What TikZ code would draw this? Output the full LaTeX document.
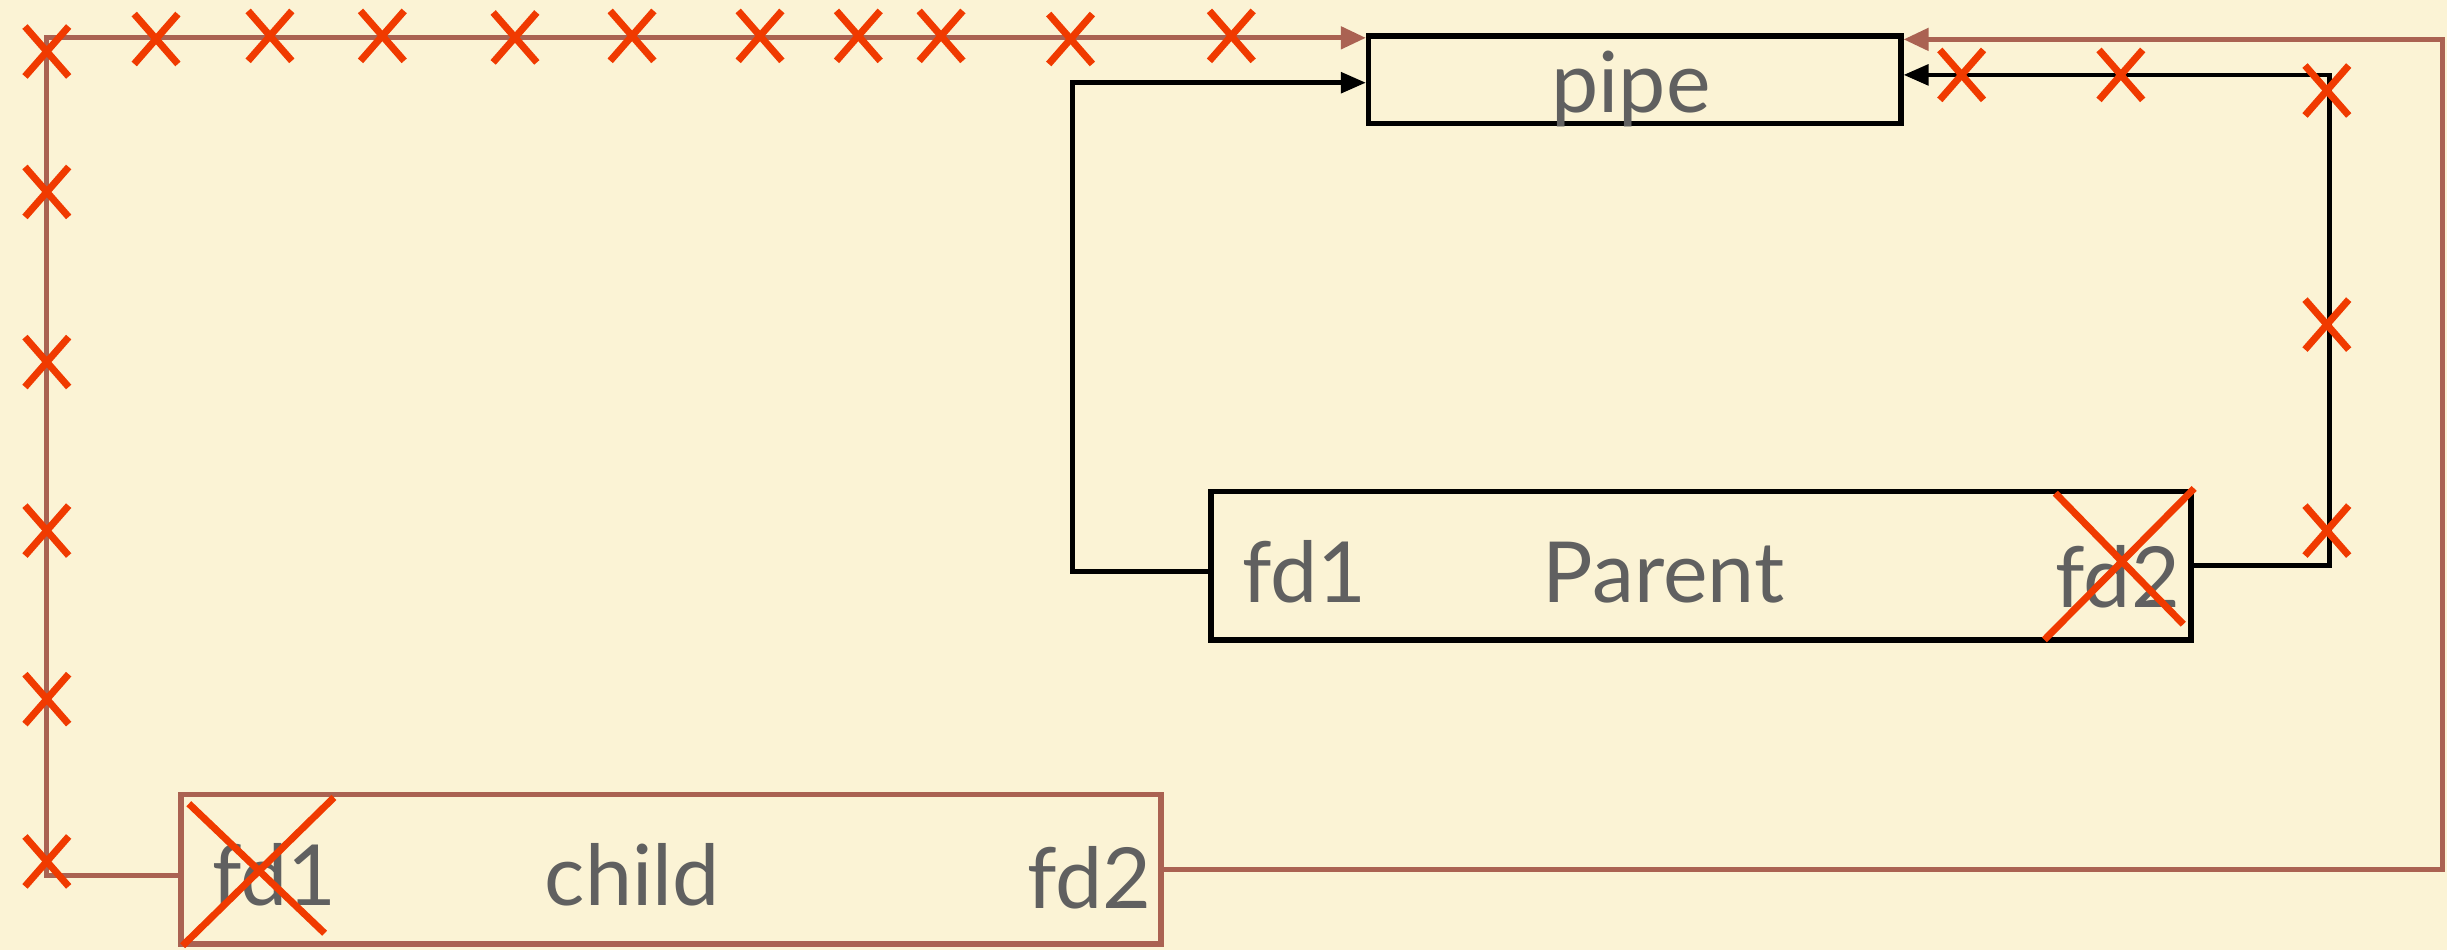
\documentclass[tikz,border=0pt]{standalone}
\usepackage{fontspec}
\setmainfont{Lato}
\usetikzlibrary{arrows.meta}
\definecolor{bg}{RGB}{251,243,213}
\definecolor{brn}{RGB}{170,98,82}
\definecolor{xred}{RGB}{240,58,0}
\definecolor{txt}{RGB}{96,96,96}
\tikzset{
  box/.style={draw=black,line width=3.5pt,minimum width=#1,minimum height=56pt,inner sep=0pt},
  blkline/.style={draw=black,line width=3pt,line cap=rect},
  brnline/.style={draw=brn,line width=3.2pt},
  lbl/.style={text=txt,font=\fontsize{54}{60}\selectfont,inner sep=0pt},
  xst/.style={draw=xred,line width=4.5pt},
  xm/.pic={\draw[xst] (-14,16)--(14,-16); \draw[xst] (-14,-16)--(14,16);},
  bigx/.style={draw=xred,line width=4.5pt}
}
\begin{document}
\begin{tikzpicture}[x=1pt,y=-1pt]
\fill[bg] (0,0) rectangle (1568,609);
\useasboundingbox (0,0) rectangle (1568,609);

% boxes
\node[box=341pt,minimum height=56pt] (pipe) at (1047.5,51) {};
\node[box=628pt,minimum height=95pt] (parent) at (1090,362.5) {};
\node[box=628pt,minimum height=96pt,draw=brn] (child) at (430,557) {};

% labels
\node[lbl,anchor=base] (tpipe) at (1045,72) {pipe};
\node[lbl,anchor=base west] (pfd1) at (796,386) {fd1};
\node[lbl,anchor=base] (pname) at (1066,386) {Parent};
\node[lbl,anchor=base east] (pfd2) at (1397,389) {fd2};
\node[lbl,anchor=base west] (cfd1) at (136,580) {fd1};
\node[lbl,anchor=base] (cname) at (405,580) {child};
\node[lbl,anchor=base east] (cfd2) at (738,582) {fd2};

% black connectors
\draw[blkline,-{Triangle[length=16pt,width=13pt]}] ([yshift=-3.5pt]parent.west) -- ++(-87,0) |- ([yshift=-2pt]pipe.west);
\draw[blkline,-{Triangle[length=16pt,width=13pt]}] (parent.east) -- ++(87,0) |- ([yshift=3pt]pipe.east);

% brown connectors
\coordinate (lc) at (30,561);
\coordinate (rc) at (1565,557);
\draw[brnline,-{Triangle[length=16pt,width=14pt]}] ([yshift=-4pt]child.west) -- (lc) |- ([yshift=-3pt]pipe.north west);
\draw[brnline,-{Triangle[length=16pt,width=14pt]}] (child.east) -- (rc) |- ([yshift=-4pt]pipe.north east);

% crosses
\foreach \p in {(30,33),(100,25),(173,23),(245,23),(330,24),(405,23),(487,23),(550,23),(603,23),(686,25),(789,23),
                (30,123),(30,232),(30,340),(30,448),(30,552),
                (1257,48),(1359,48),(1491,58),(1491,208),(1491,340)}
  \pic at \p {xm};

% big crosses
\draw[bigx] (1317,316) -- (1399,400);
\draw[bigx] (1406,313) -- (1310,410);
\draw[bigx] (121,515) -- (208,598);
\draw[bigx] (214,511) -- (117,606);
\end{tikzpicture}
\end{document}
